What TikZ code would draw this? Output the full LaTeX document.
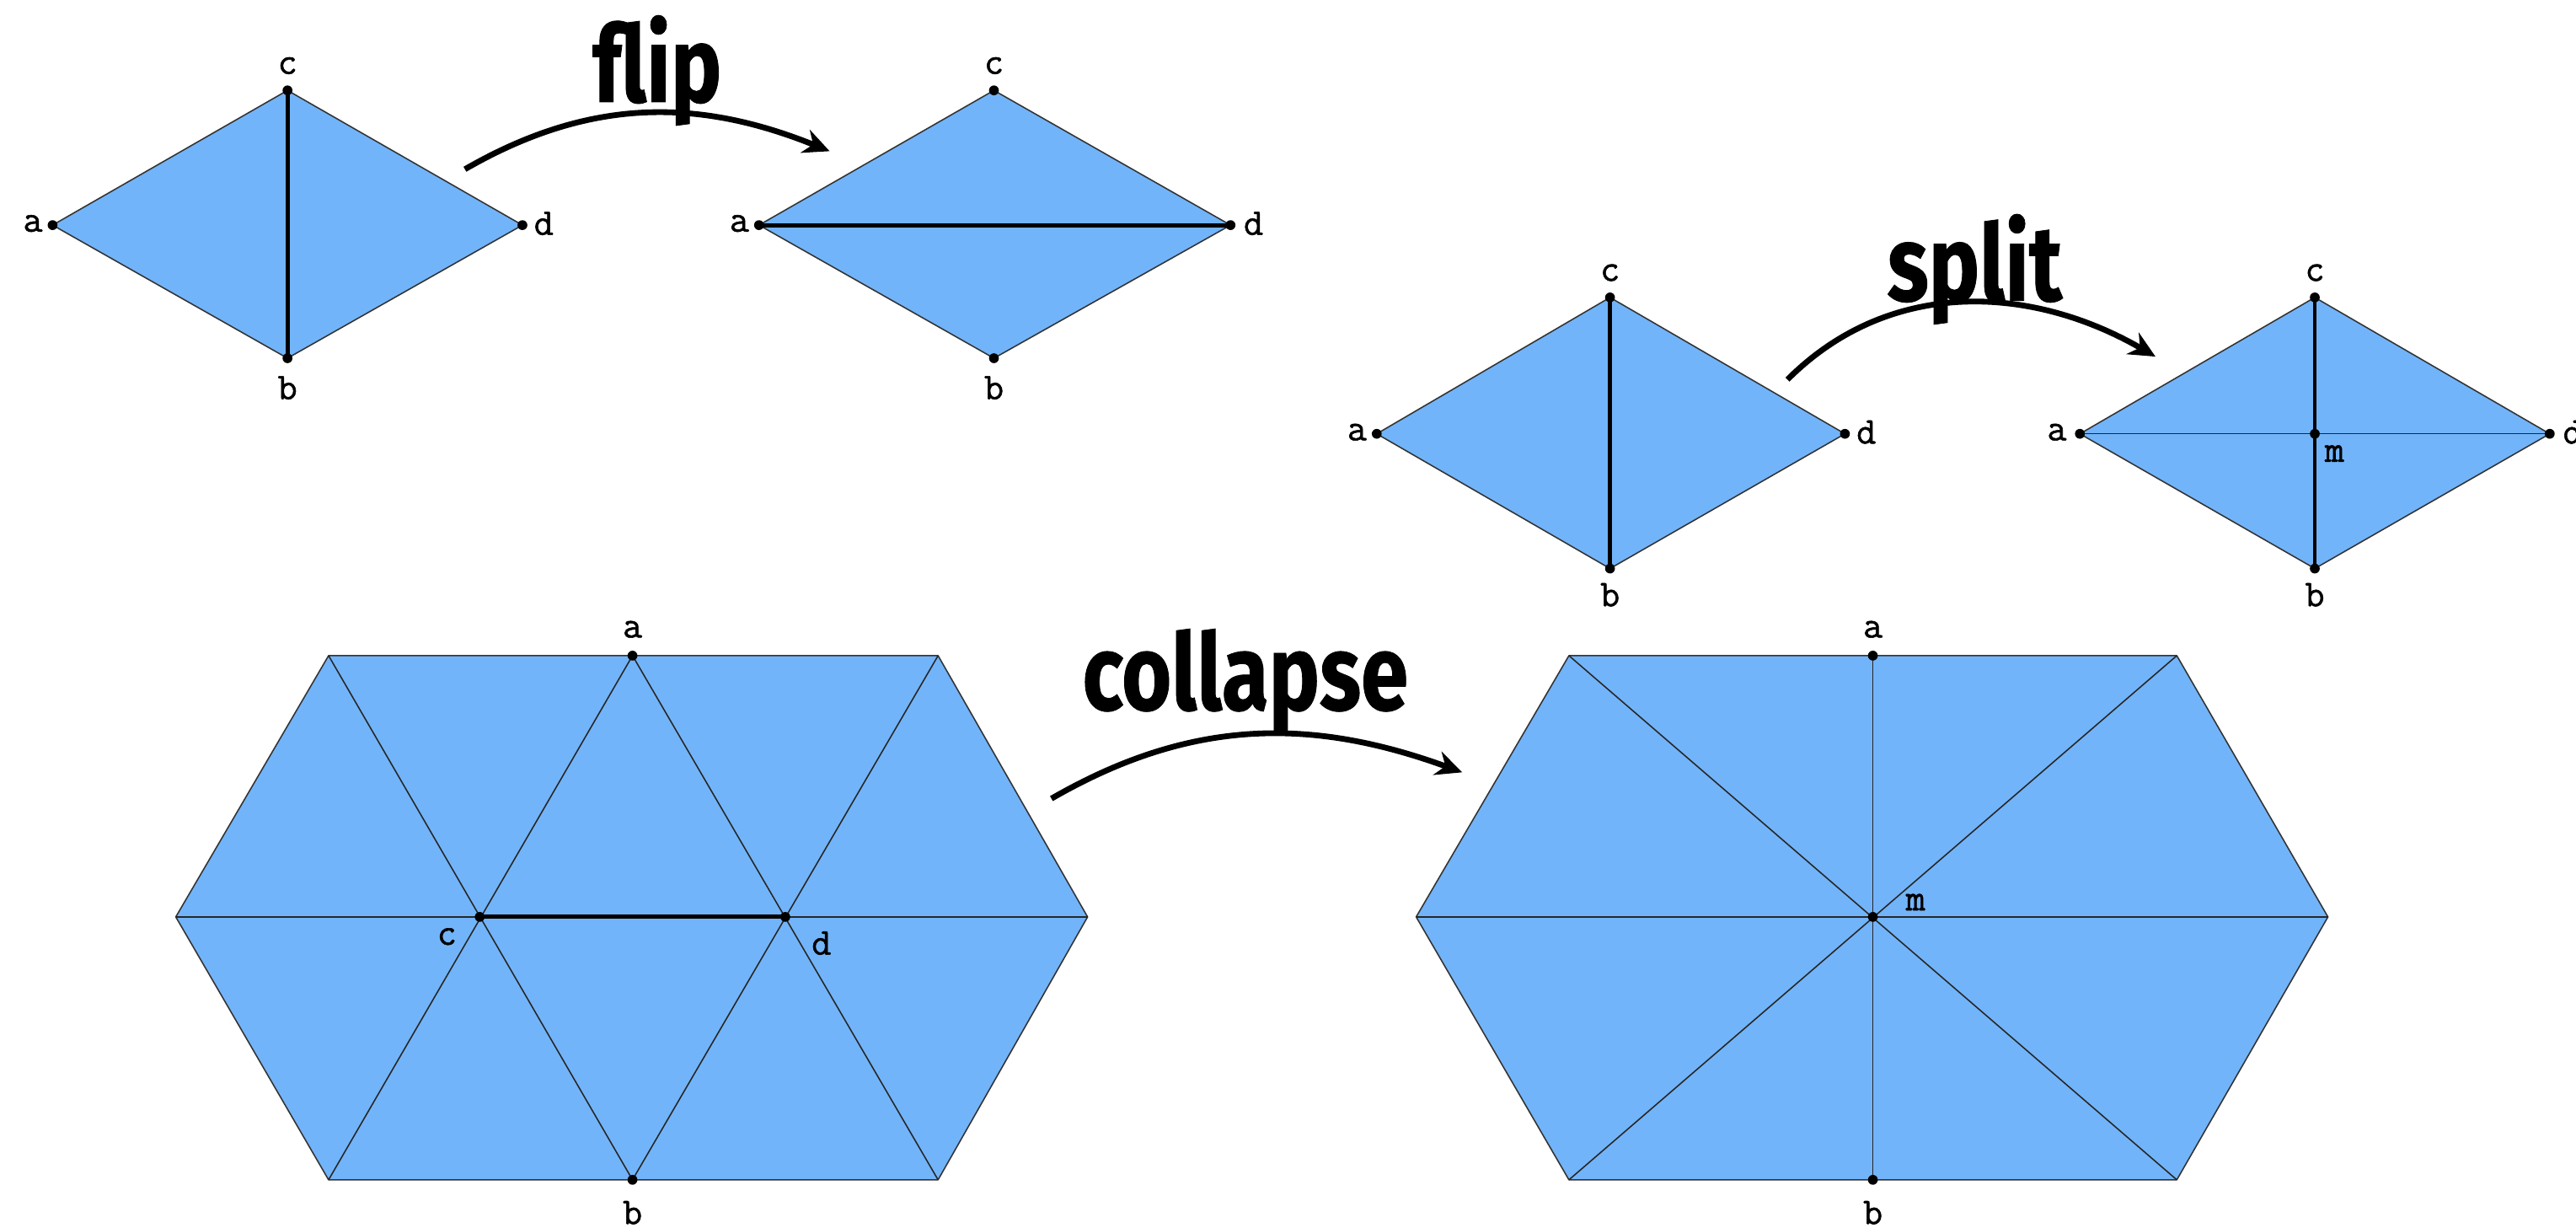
\documentclass[tikz,border=0pt]{standalone}
\usepackage{fontspec}
\newfontfamily\titlefont[FakeStretch=0.8,FakeBold=0.6]{Fira Sans}
\newfontfamily\labelfont[FakeBold=1.2]{Latin Modern Mono}
\usetikzlibrary{arrows.meta}
\definecolor{meshblue}{HTML}{72B4F9}
\tikzset{
  face/.style={fill=meshblue, draw=black!80, line width=0.8pt, line join=round},
  meshedge/.style={draw=black!85, line width=0.8pt},
  boldedge/.style={draw=black, line width=2.6pt},
  vdot/.style={circle, fill=black, inner sep=0pt, minimum size=6pt},
  vlabel/.style={font=\labelfont\fontsize{23}{23}\selectfont, inner sep=0pt},
  optitle/.style={font=\titlefont\bfseries\fontsize{65}{65}\selectfont, inner sep=0pt, anchor=base},
  oparrow/.style={line width=3.5pt, -{Stealth[length=16pt,width=15pt]}}
}
\begin{document}
\begin{tikzpicture}[x=1pt,y=-1pt]
\useasboundingbox (0,0) rectangle (1568,747);

% ---------- flip ----------
\coordinate (f1a) at (32,137);  \coordinate (f1c) at (175,55);
\coordinate (f1d) at (318,137); \coordinate (f1b) at (175,218);
\draw[face] (f1a)--(f1c)--(f1d)--(f1b)--cycle;
\draw[boldedge] (f1c)--(f1b);
\node[vdot] (f1da) at (f1a) {}; \node[vdot] (f1dc) at (f1c) {};
\node[vdot] (f1dd) at (f1d) {}; \node[vdot] (f1db) at (f1b) {};
\node[vlabel] (f1la) at (20,136) {a};
\node[vlabel] (f1lc) at (175,40) {c};
\node[vlabel] (f1ld) at (331,136) {d};
\node[vlabel] (f1lb) at (175,236) {b};

\coordinate (f2a) at (462,137); \coordinate (f2c) at (605,55);
\coordinate (f2d) at (749,137); \coordinate (f2b) at (605,218);
\draw[face] (f2a)--(f2c)--(f2d)--(f2b)--cycle;
\draw[boldedge] (f2a)--(f2d);
\node[vdot] (f2da) at (f2a) {}; \node[vdot] (f2dc) at (f2c) {};
\node[vdot] (f2dd) at (f2d) {}; \node[vdot] (f2db) at (f2b) {};
\node[vlabel] (f2la) at (450,136) {a};
\node[vlabel] (f2lc) at (605,40) {c};
\node[vlabel] (f2ld) at (763,136) {d};
\node[vlabel] (f2lb) at (605,236) {b};

\coordinate (flips) at (283,103); \coordinate (flipe) at (505,92);
\draw[oparrow] (flips) to[out=30,in=158] (flipe);
\node[optitle] (fliptitle) at (400,62) {flip};

% ---------- split ----------
\coordinate (s1a) at (838,264);  \coordinate (s1c) at (980,181);
\coordinate (s1d) at (1123,264); \coordinate (s1b) at (980,346);
\draw[face] (s1a)--(s1c)--(s1d)--(s1b)--cycle;
\draw[boldedge] (s1c)--(s1b);
\node[vdot] (s1da) at (s1a) {}; \node[vdot] (s1dc) at (s1c) {};
\node[vdot] (s1dd) at (s1d) {}; \node[vdot] (s1db) at (s1b) {};
\node[vlabel] (s1la) at (826,263) {a};
\node[vlabel] (s1lc) at (980,166) {c};
\node[vlabel] (s1ld) at (1136,263) {d};
\node[vlabel] (s1lb) at (980,362) {b};

\coordinate (s2a) at (1266,264); \coordinate (s2c) at (1409,181);
\coordinate (s2d) at (1552,264); \coordinate (s2b) at (1409,346);
\coordinate (s2m) at (1409,264);
\draw[face] (s2a)--(s2c)--(s2d)--(s2b)--cycle;
\draw[meshedge] (s2a)--(s2d);
\draw[boldedge, line width=2.2pt] (s2c)--(s2b);
\node[vdot] (s2da) at (s2a) {}; \node[vdot] (s2dc) at (s2c) {};
\node[vdot] (s2dd) at (s2d) {}; \node[vdot] (s2db) at (s2b) {};
\node[vdot] (s2dm) at (s2m) {};
\node[vlabel] (s2la) at (1252,263) {a};
\node[vlabel] (s2lc) at (1409,166) {c};
\node[vlabel] (s2ld) at (1566,263) {d};
\node[vlabel] (s2lb) at (1409,362) {b};
\node[vlabel] (s2lm) at (1421,276) {m};

\coordinate (splits) at (1088,231); \coordinate (splite) at (1312,217);
\draw[oparrow] (splits) to[out=45,in=150] (splite);
\node[optitle] (splittitle) at (1202,183) {split};

% ---------- collapse ----------
\coordinate (h1tl) at (200,399); \coordinate (h1tr) at (571,399);
\coordinate (h1r) at (662,558);  \coordinate (h1br) at (571,718);
\coordinate (h1bl) at (200,718); \coordinate (h1l) at (107,558);
\coordinate (h1a) at (385,399);  \coordinate (h1b) at (385,718);
\coordinate (h1c) at (292,558);  \coordinate (h1d) at (478,558);
\draw[face] (h1tl)--(h1tr)--(h1r)--(h1br)--(h1bl)--(h1l)--cycle;
\draw[meshedge] (h1l)--(h1r);
\draw[meshedge] (h1tl)--(h1b);
\draw[meshedge] (h1a)--(h1bl);
\draw[meshedge] (h1a)--(h1br);
\draw[meshedge] (h1tr)--(h1b);
\draw[boldedge] (h1c)--(h1d);
\node[vdot] (h1da) at (h1a) {}; \node[vdot] (h1db) at (h1b) {};
\node[vdot] (h1dc) at (h1c) {}; \node[vdot] (h1dd) at (h1d) {};
\node[vlabel] (h1la) at (385,383) {a};
\node[vlabel] (h1lb) at (385,738) {b};
\node[vlabel] (h1lc) at (272,570) {c};
\node[vlabel] (h1ld) at (500,574) {d};

\coordinate (h2tl) at (955,399); \coordinate (h2tr) at (1325,399);
\coordinate (h2r) at (1417,558); \coordinate (h2br) at (1325,718);
\coordinate (h2bl) at (955,718); \coordinate (h2l) at (862,558);
\coordinate (h2a) at (1140,399); \coordinate (h2b) at (1140,718);
\coordinate (h2m) at (1140,558);
\draw[face] (h2tl)--(h2tr)--(h2r)--(h2br)--(h2bl)--(h2l)--cycle;
\draw[meshedge] (h2l)--(h2r);
\draw[meshedge] (h2a)--(h2b);
\draw[meshedge] (h2tl)--(h2br);
\draw[meshedge] (h2tr)--(h2bl);
\node[vdot] (h2da) at (h2a) {}; \node[vdot] (h2db) at (h2b) {};
\node[vdot] (h2dm) at (h2m) {};
\node[vlabel] (h2la) at (1140,383) {a};
\node[vlabel] (h2lb) at (1140,738) {b};
\node[vlabel] (h2lm) at (1166,549) {m};

\coordinate (colls) at (640,486); \coordinate (colle) at (890,470);
\draw[oparrow] (colls) to[out=30,in=160] (colle);
\node[optitle] (colltitle) at (758,432) {collapse};
\end{tikzpicture}
\end{document}
